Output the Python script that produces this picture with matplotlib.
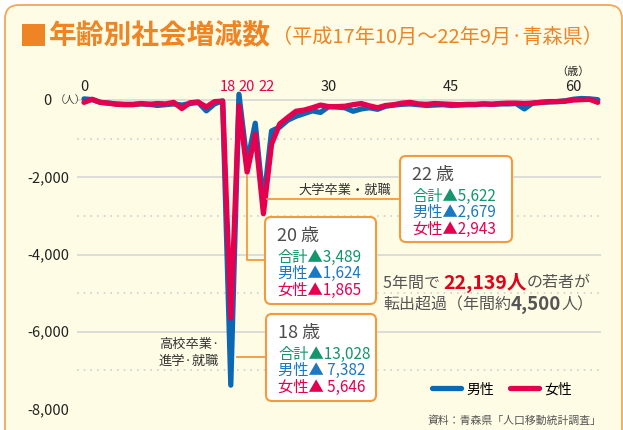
import matplotlib
matplotlib.use("Agg")
import numpy as np
import matplotlib.pyplot as plt
from matplotlib.patches import FancyBboxPatch, Rectangle
from matplotlib.lines import Line2D
from matplotlib.transforms import Affine2D, blended_transform_factory

plt.rcParams['font.family'] = ['Noto Sans CJK JP', 'DejaVu Sans']

# ---- data ----
ages = np.arange(0, 64)
male = [30, 10, -60, -80, -100, -110, -110, -100, -110, -140, -120, -100, -130, -90, -60, -280, -100, -20,
        -7382, 150, -1624, -600, -2679, -800, -700, -520, -420, -350, -280, -320,
        -170, -180, -200, -290, -230, -200, -240, -160, -130, -110, -100, -120, -140, -130, -120, -140,
        -130, -120, -120, -100, -110, -100, -100, -90, -230, -80, -60, -50, -40, -20, 20, 40, 30, 10]
female = [-60, 20, -60, -80, -110, -120, -120, -90, -110, -90, -100, -60, -220, -70, -50, -180, -40, -30,
          -5646, -150, -1865, -880, -2943, -1140, -620, -450, -290, -260, -200, -130,
          -170, -170, -160, -120, -90, -150, -200, -140, -120, -80, -60, -100, -110, -90, -100, -110,
          -120, -110, -110, -100, -110, -90, -80, -80, -90, -80, -60, -40, -40, -30, 0, 10, 20, -60]

ytick_values = [0, -2000, -4000, -6000, -8000]
ytick_labels = ["0", "-2,000", "-4,000", "-6,000", "-8,000"]
solid_grid = [0, -2000, -4000, -6000]
dotted_grid = [-1000, -3000, -5000, -7000]
xtick_values = [0, 18, 20, 22, 30, 45, 60]
highlight_ages = [18, 20, 22]

# callout boxes: age, total, male, female
callout_ages = ["22", "20", "18"]
callout_total = ["5,622", "3,489", "13,028"]
callout_male = ["2,679", "1,624", " 7,382"]
callout_female = ["2,943", "1,865", " 5,646"]

W, H = 623, 431
BLUE = "#0a68b4"
RED = "#e4004f"
ORANGE = "#ee8424"
BOX_EDGE = "#f39a3c"
CREAM = "#fffce6"
GRAY = "#4d4d4d"

fig = plt.figure(figsize=(W / 100, H / 100), dpi=100)
fig.patch.set_facecolor("white")
px = Affine2D().scale(1, -1).translate(0, H)  # pixel coords, origin top-left

# outer panel
fig.add_artist(FancyBboxPatch((5, 6), 617, 460, boxstyle="round,pad=0,rounding_size=14",
                              transform=px, fc=CREAM, ec="#f4a65a", lw=1.3, zorder=-5))

# title
fig.add_artist(Rectangle((22, 25), 23, 22, transform=px, fc=ORANGE, ec="none"))
fig.text(49, 36, "年齢別社会増減数", transform=px, fontsize=20, fontweight="bold",
         color=ORANGE, va="center", ha="left")
fig.text(603, 37, "（平成17年10月～22年9月·青森県）", transform=px, fontsize=14.5,
         color=ORANGE, va="center", ha="right")

# ---- plot area ----
ax = fig.add_axes([77 / W, 21 / H, 524 / W, 324.4 / H])
ax.set_axis_off()
ax.set_xlim(-0.86, 63.4)
ax.set_ylim(-8000, 400)

for v in solid_grid:
    ax.axhline(v, color="#d6d6d6", lw=1.2, zorder=1)
for v in dotted_grid:
    ax.axhline(v, color="#cfcfcf", lw=1.2, ls=(0, (1, 3)), zorder=1)

ax.plot(ages, male, color=BLUE, lw=3.8, solid_joinstyle="round", solid_capstyle="round",
        zorder=3, label="男性")
ax.plot(ages, female, color=RED, lw=3.8, solid_joinstyle="round", solid_capstyle="round",
        zorder=4, label="女性")

# tick labels
tx = blended_transform_factory(ax.transData, px)
offsets = {18: -3, 20: 0, 22: 3}
for a in xtick_values:
    c = RED if a in highlight_ages else "#222222"
    off = offsets.get(a, 0)
    ax.text(a, 87, str(a), transform=tx + Affine2D().translate(off, 0), fontsize=10.5,
            color=c, ha="center", va="center")
ax.text(60, 72, "（歳）", transform=tx, fontsize=8, color="#222222", ha="center", va="center")

ty = blended_transform_factory(px, ax.transData)
for v, lab in zip(ytick_values, ytick_labels):
    if v == 0:
        ax.text(52, v, lab, transform=ty, fontsize=10.5, color="#222222", ha="right", va="center")
        ax.text(55, v, "（人）", transform=ty, fontsize=7.5, color="#444444", ha="left", va="center")
    else:
        ax.text(69, v, lab, transform=ty, fontsize=10.5, color="#222222", ha="right", va="center")

# ---- connectors ----
conn = dict(color=BOX_EDGE, lw=1.3, transform=px, zorder=5)
fig.add_artist(Line2D([267, 400], [200, 200], **conn))
fig.add_artist(Line2D([247, 247, 265], [177, 261, 261], **conn))
fig.add_artist(Line2D([237, 266], [358, 358], **conn))

fig.text(345, 190, "大学卒業・就職", transform=px, fontsize=9.5, color="#333333",
         ha="center", va="center")
fig.text(159, 344, "高校卒業·", transform=px, fontsize=9.5, color="#333333", ha="left", va="center")
fig.text(159, 361, "進学·就職", transform=px, fontsize=9.5, color="#333333", ha="left", va="center")

# ---- callout boxes ----
box_pos = [(400, 157, 112, 86), (265, 218, 111, 87), (266, 315, 110, 87)]
for (bx, by, bw, bh), age, tot, m, f in zip(box_pos, callout_ages, callout_total,
                                             callout_male, callout_female):
    fig.add_artist(FancyBboxPatch((bx, by), bw, bh, boxstyle="round,pad=0,rounding_size=6",
                                  transform=px, fc="white", ec=BOX_EDGE, lw=1.5, zorder=6))
    fig.text(bx + 12, by + 18, age + " 歳", transform=px, fontsize=13, color=GRAY,
             va="center", ha="left", zorder=7)
    fig.text(bx + 12, by + 39, "合計▲" + tot, transform=px, fontsize=11, color="#14956b",
             va="center", ha="left", zorder=7)
    fig.text(bx + 12, by + 55, "男性▲" + m, transform=px, fontsize=11, color="#1b78c2",
             va="center", ha="left", zorder=7)
    fig.text(bx + 12, by + 72, "女性▲" + f, transform=px, fontsize=11, color=RED,
             va="center", ha="left", zorder=7)

# ---- summary text ----
renderer = fig.canvas.get_renderer()


def run_text(x, y, pieces):
    for s, size, weight, color in pieces:
        t = fig.text(x, y, s, transform=px, fontsize=size, fontweight=weight, color=color,
                     ha="left", va="center")
        x += t.get_window_extent(renderer).width


run_text(383, 283, [("5年間で ", 11.5, "normal", "#555555"),
                    ("22,139人", 14, "bold", "#e2001a"),
                    ("の若者が", 11.5, "normal", "#555555")])
run_text(383, 305, [("転出超過（年間約", 11.5, "normal", "#555555"),
                    ("4,500", 13.5, "bold", "#555555"),
                    ("人）", 11.5, "normal", "#555555")])

# legend
ax.legend(loc="center", bbox_to_anchor=(502, 390), bbox_transform=px, ncol=2, frameon=False,
          fontsize=10, handlelength=2.1, handletextpad=0.4, columnspacing=1.1, borderpad=0)

fig.text(601, 421, "資料：青森県「人口移動統計調査」", transform=px, fontsize=7.8,
         color="#555555", ha="right", va="center")

fig.savefig("out.png", dpi=100)
